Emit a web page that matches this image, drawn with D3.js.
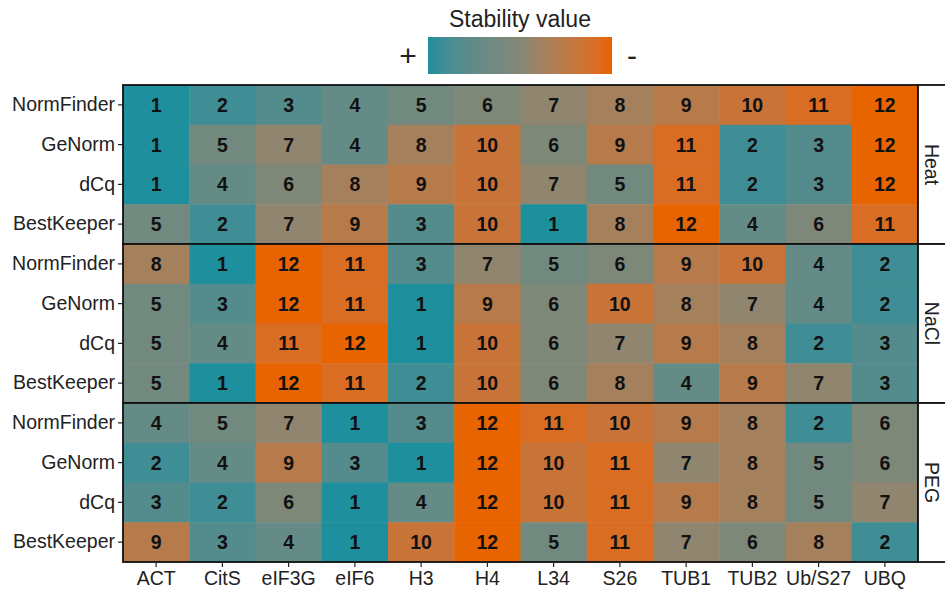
<!DOCTYPE html>
<html><head><meta charset="utf-8">
<script src="https://cdn.jsdelivr.net/npm/d3@7"></script>
<style>body{margin:0;background:#fff}svg{display:block;font-family:"Liberation Sans",Arial,sans-serif}</style>
</head><body><svg id="c" width="945" height="595"></svg>
<script>
const genes = ["ACT","CitS","eIF3G","eIF6","H3","H4","L34","S26","TUB1","TUB2","Ub/S27","UBQ"];
const methods = ["NormFinder","GeNorm","dCq","BestKeeper"];
const stresses = ["Heat","NaCl","PEG"];
const heatValues = [
  [1,2,3,4,5,6,7,8,9,10,11,12],
  [1,5,7,4,8,10,6,9,11,2,3,12],
  [1,4,6,8,9,10,7,5,11,2,3,12],
  [5,2,7,9,3,10,1,8,12,4,6,11]
];
const naclValues = [
  [8,1,12,11,3,7,5,6,9,10,4,2],
  [5,3,12,11,1,9,6,10,8,7,4,2],
  [5,4,11,12,1,10,6,7,9,8,2,3],
  [5,1,12,11,2,10,6,8,4,9,7,3]
];
const pegValues = [
  [4,5,7,1,3,12,11,10,9,8,2,6],
  [2,4,9,3,1,12,10,11,7,8,5,6],
  [3,2,6,1,4,12,10,11,9,8,5,7],
  [9,3,4,1,10,12,5,11,7,6,8,2]
];
const legendTitle = "Stability value";
const legendLow = "+", legendHigh = "-";

(function(){
const panelData = [heatValues, naclValues, pegValues];
const cells = [];
stresses.forEach((s, si) => panelData[si].forEach((row, ri) => row.forEach((v, gi) =>
  cells.push({stress: s, method: methods[ri], gene: genes[gi], value: v}))));

const svg = d3.select("#c");
const pLeft = 123, pRight = 918, pTop = 85, pBottom = 562;
const panelH = (pBottom - pTop) / stresses.length;

const x = d3.scaleBand().domain(genes).range([pLeft, pRight]);
const py = d3.scaleBand().domain(stresses).range([pTop, pBottom]);
const y = d3.scaleBand().domain(methods).range([0, panelH]);
const color = d3.scaleLinear().domain([1, 6.5, 12])
  .range(["#1e8f9c", "#848776", "#e86400"]).interpolate(d3.interpolateLab);

const font = 19.5;
const numFont = 19.5;

stresses.forEach(s => {
  const g = svg.append("g").attr("transform", `translate(0,${py(s)})`);
  const data = cells.filter(d => d.stress === s);
  g.selectAll("rect.cell").data(data).join("rect").attr("class","cell")
    .attr("x", d => x(d.gene)).attr("y", d => y(d.method))
    .attr("width", x.bandwidth() + 0.5).attr("height", y.bandwidth() + 0.5)
    .attr("fill", d => color(d.value));
  g.selectAll("text.val").data(data).join("text").attr("class","val")
    .attr("x", d => x(d.gene) + x.bandwidth()/2)
    .attr("y", d => y(d.method) + y.bandwidth()/2)
    .attr("dy", "0.36em").attr("text-anchor","middle")
    .attr("font-weight","bold").attr("font-size", numFont).attr("fill","#111")
    .text(d => d.value);
  const ya = g.append("g").attr("transform", `translate(${pLeft},0)`)
    .call(d3.axisLeft(y).tickSize(5).tickPadding(3));
  ya.select(".domain").remove();
  ya.selectAll("text").attr("font-size", font).attr("fill","#222").attr("font-family","Liberation Sans, Arial, sans-serif");
  ya.selectAll("line").attr("stroke","#222").attr("stroke-width",1.2);
  g.append("rect").attr("x", pLeft).attr("y", 0).attr("width", pRight-pLeft).attr("height", panelH)
    .attr("fill","none").attr("stroke","#111").attr("stroke-width",1.8);
  g.append("rect").attr("x", pRight).attr("y", 0).attr("width", 40).attr("height", panelH)
    .attr("fill","#fff").attr("stroke","#111").attr("stroke-width",1.8);
  g.append("text").attr("transform", `translate(${pRight+14},${panelH/2}) rotate(90)`)
    .attr("text-anchor","middle").attr("dy","0.36em").attr("font-size", font).attr("fill","#222")
    .text(s);
});

const xa = svg.append("g").attr("transform", `translate(0,${pBottom})`)
  .call(d3.axisBottom(x).tickSize(5).tickPadding(4));
xa.select(".domain").remove();
xa.selectAll("text").attr("font-size", font).attr("fill","#222").attr("font-family","Liberation Sans, Arial, sans-serif");
xa.selectAll("line").attr("stroke","#222").attr("stroke-width",1.2);

const lx0 = 428, lx1 = 612, ly0 = 37, ly1 = 74;
const defs = svg.append("defs");
const grad = defs.append("linearGradient").attr("id","lg");
d3.range(0, 1.0001, 0.05).forEach(t => grad.append("stop")
  .attr("offset", t).attr("stop-color", color(1 + 11*t)));
svg.append("rect").attr("x", lx0).attr("y", ly0).attr("width", lx1-lx0).attr("height", ly1-ly0)
  .attr("fill","url(#lg)");
svg.append("text").attr("x", (lx0+lx1)/2).attr("y", 27).attr("text-anchor","middle")
  .attr("font-size", 23).attr("fill","#222").text(legendTitle);
svg.append("text").attr("x", 408).attr("y", (ly0+ly1)/2).attr("dy","0.36em").attr("text-anchor","middle")
  .attr("font-size", 30).attr("fill","#222").text(legendLow);
svg.append("text").attr("x", 632).attr("y", (ly0+ly1)/2).attr("dy","0.36em").attr("text-anchor","middle")
  .attr("font-size", 30).attr("fill","#222").text(legendHigh);
})();
</script></body></html>
